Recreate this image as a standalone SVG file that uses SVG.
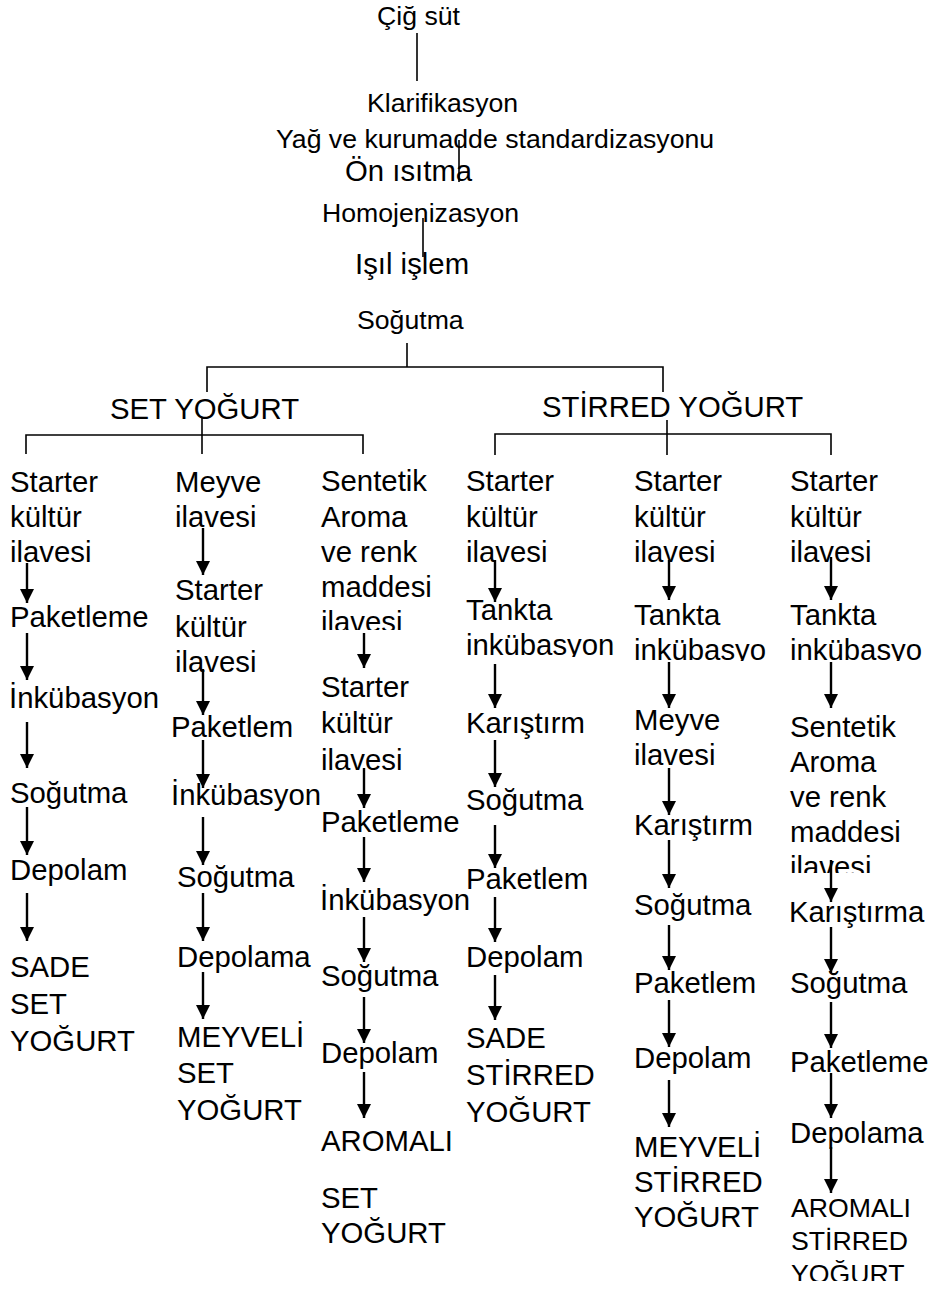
<svg xmlns="http://www.w3.org/2000/svg" width="930" height="1290" viewBox="0 0 930 1290">
<style>
text{font-family:"Liberation Sans",Arial,sans-serif;fill:#000}
.s{font-size:26.67px}
.l{font-size:29.33px}
.ln{stroke:#000;stroke-width:1.6;fill:none}
.ar{stroke:#000;stroke-width:2.4;fill:none;marker-end:url(#ah)}
</style>
<defs>
<marker id="ah" markerUnits="userSpaceOnUse" markerWidth="14" markerHeight="14" refX="14" refY="7" orient="auto">
<path d="M0,0 L14,7 L0,14 Z" fill="#000"/>
</marker>
<clipPath id="c3"><rect x="300" y="600" width="140" height="30"/></clipPath>
<clipPath id="c4"><rect x="450" y="630" width="180" height="27"/></clipPath>
<clipPath id="c5"><rect x="620" y="630" width="160" height="31"/></clipPath>
<clipPath id="c6a"><rect x="780" y="630" width="150" height="31"/></clipPath>
<clipPath id="c6b"><rect x="780" y="845" width="150" height="28"/></clipPath>
<clipPath id="c6c"><rect x="780" y="1190" width="150" height="91"/></clipPath>
</defs>
<rect width="930" height="1290" fill="#fff"/>
<g id="connectors">
<line class="ln" x1="417" y1="33" x2="417" y2="81"/>
<line class="ln" x1="459" y1="140" x2="459" y2="182"/>
<line class="ln" x1="423" y1="218" x2="423" y2="257"/>
<line class="ln" x1="407" y1="343" x2="407" y2="367"/>
<polyline class="ln" points="207,392 207,367 663,367 663,392"/>
<line class="ln" x1="202" y1="418" x2="202" y2="454"/>
<polyline class="ln" points="26,454 26,435 363,435 363,454"/>
<line class="ln" x1="667" y1="420" x2="667" y2="455"/>
<polyline class="ln" points="495,455 495,434 831,434 831,455"/>
<line class="ar" x1="27" y1="563" x2="27" y2="603"/>
<line class="ar" x1="27" y1="633" x2="27" y2="680"/>
<line class="ar" x1="27" y1="722" x2="27" y2="768"/>
<line class="ar" x1="27" y1="807" x2="27" y2="855"/>
<line class="ar" x1="27" y1="893" x2="27" y2="941"/>
<line class="ar" x1="203" y1="528" x2="203" y2="575"/>
<line class="ar" x1="203" y1="669" x2="203" y2="715"/>
<line class="ar" x1="203" y1="740" x2="203" y2="788"/>
<line class="ar" x1="203" y1="817" x2="203" y2="865"/>
<line class="ar" x1="203" y1="893" x2="203" y2="941"/>
<line class="ar" x1="203" y1="972" x2="203" y2="1019"/>
<line class="ar" x1="364" y1="633" x2="364" y2="668"/>
<line class="ar" x1="364" y1="768" x2="364" y2="808"/>
<line class="ar" x1="364" y1="837" x2="364" y2="882"/>
<line class="ar" x1="364" y1="917" x2="364" y2="962"/>
<line class="ar" x1="364" y1="997" x2="364" y2="1043"/>
<line class="ar" x1="364" y1="1072" x2="364" y2="1118"/>
<line class="ar" x1="495" y1="560" x2="495" y2="602"/>
<line class="ar" x1="495" y1="664" x2="495" y2="708"/>
<line class="ar" x1="495" y1="740" x2="495" y2="787"/>
<line class="ar" x1="495" y1="825" x2="495" y2="868"/>
<line class="ar" x1="495" y1="897" x2="495" y2="942"/>
<line class="ar" x1="495" y1="975" x2="495" y2="1020"/>
<line class="ar" x1="669" y1="560" x2="669" y2="600"/>
<line class="ar" x1="669" y1="662" x2="669" y2="708"/>
<line class="ar" x1="669" y1="768" x2="669" y2="815"/>
<line class="ar" x1="669" y1="840" x2="669" y2="888"/>
<line class="ar" x1="669" y1="925" x2="669" y2="970"/>
<line class="ar" x1="669" y1="1000" x2="669" y2="1047"/>
<line class="ar" x1="669" y1="1080" x2="669" y2="1127"/>
<line class="ar" x1="831" y1="557" x2="831" y2="600"/>
<line class="ar" x1="831" y1="662" x2="831" y2="708"/>
<line class="ar" x1="831" y1="860" x2="831" y2="902"/>
<line class="ar" x1="831" y1="927" x2="831" y2="973"/>
<line class="ar" x1="831" y1="1002" x2="831" y2="1048"/>
<line class="ar" x1="831" y1="1073" x2="831" y2="1118"/>
<line class="ar" x1="831" y1="1147" x2="831" y2="1193"/>
</g>
<g id="n-cig-sut"><text class="s" x="377" y="25">Çiğ süt</text></g>
<g id="n-klarifikasyon"><text class="s" x="367" y="112">Klarifikasyon</text></g>
<g id="n-standardizasyon"><text class="s" x="276" y="148">Yağ ve kurumadde standardizasyonu</text></g>
<g id="n-on-isitma"><text class="l" x="345" y="181">Ön ısıtma</text></g>
<g id="n-homojenizasyon"><text class="s" x="322" y="222">Homojenizasyon</text></g>
<g id="n-isil-islem"><text class="l" x="355" y="274">Işıl işlem</text></g>
<g id="n-sogutma"><text class="s" x="357" y="329">Soğutma</text></g>
<g id="n-set"><text class="l" x="110" y="419">SET YOĞURT</text></g>
<g id="n-stirred"><text class="l" x="542" y="417">STİRRED YOĞURT</text></g>

<g id="col1">
<g id="c1-starter"><text class="l"><tspan x="10" y="492">Starter</tspan><tspan x="10" y="527">kültür</tspan><tspan x="10" y="562">ilavesi</tspan></text></g>
<g id="c1-paketleme"><text class="l" x="10" y="627">Paketleme</text></g>
<g id="c1-inkubasyon"><text class="l" x="9" y="708">İnkübasyon</text></g>
<g id="c1-sogutma"><text class="l" x="10" y="803">Soğutma</text></g>
<g id="c1-depolam"><text class="l" x="10" y="880">Depolam</text></g>
<g id="c1-sade"><text class="l"><tspan x="10" y="977">SADE</tspan><tspan x="10" y="1014">SET</tspan><tspan x="10" y="1051">YOĞURT</tspan></text></g>
</g>

<g id="col2">
<g id="c2-meyve"><text class="l"><tspan x="175" y="492">Meyve</tspan><tspan x="175" y="527">ilavesi</tspan></text></g>
<g id="c2-starter"><text class="l"><tspan x="175" y="600">Starter</tspan><tspan x="175" y="637">kültür</tspan><tspan x="175" y="672">ilavesi</tspan></text></g>
<g id="c2-paketlem"><text class="l" x="171" y="737">Paketlem</text></g>
<g id="c2-inkubasyon"><text class="l" x="171" y="805">İnkübasyon</text></g>
<g id="c2-sogutma"><text class="l" x="177" y="887">Soğutma</text></g>
<g id="c2-depolama"><text class="l" x="177" y="967">Depolama</text></g>
<g id="c2-meyveli"><text class="l"><tspan x="177" y="1047">MEYVELİ</tspan><tspan x="177" y="1083">SET</tspan><tspan x="177" y="1120">YOĞURT</tspan></text></g>
</g>

<g id="col3">
<g id="c3-sentetik"><text class="l"><tspan x="321" y="491">Sentetik</tspan><tspan x="321" y="527">Aroma</tspan><tspan x="321" y="562">ve renk</tspan><tspan x="321" y="597">maddesi</tspan></text><text class="l" x="321" y="632" clip-path="url(#c3)">ilavesi</text></g>
<g id="c3-starter"><text class="l"><tspan x="321" y="697">Starter</tspan><tspan x="321" y="733">kültür</tspan><tspan x="321" y="770">ilavesi</tspan></text></g>
<g id="c3-paketleme"><text class="l" x="321" y="832">Paketleme</text></g>
<g id="c3-inkubasyon"><text class="l" x="320" y="910">İnkübasyon</text></g>
<g id="c3-sogutma"><text class="l" x="321" y="986">Soğutma</text></g>
<g id="c3-depolam"><text class="l" x="321" y="1063">Depolam</text></g>
<g id="c3-aromali"><text class="l"><tspan x="321" y="1151">AROMALI</tspan><tspan x="321" y="1208">SET</tspan><tspan x="321" y="1243">YOĞURT</tspan></text></g>
</g>

<g id="col4">
<g id="c4-starter"><text class="l"><tspan x="466" y="491">Starter</tspan><tspan x="466" y="527">kültür</tspan><tspan x="466" y="562">ilavesi</tspan></text></g>
<g id="c4-tankta"><text class="l" x="466" y="620">Tankta</text><text class="l" x="466" y="655" clip-path="url(#c4)">inkübasyon</text></g>
<g id="c4-karistirm"><text class="l" x="466" y="733">Karıştırm</text></g>
<g id="c4-sogutma"><text class="l" x="466" y="810">Soğutma</text></g>
<g id="c4-paketlem"><text class="l" x="466" y="889">Paketlem</text></g>
<g id="c4-depolam"><text class="l" x="466" y="967">Depolam</text></g>
<g id="c4-sade"><text class="l"><tspan x="466" y="1048">SADE</tspan><tspan x="466" y="1085">STİRRED</tspan><tspan x="466" y="1122">YOĞURT</tspan></text></g>
</g>

<g id="col5">
<g id="c5-starter"><text class="l"><tspan x="634" y="491">Starter</tspan><tspan x="634" y="527">kültür</tspan><tspan x="634" y="562">ilavesi</tspan></text></g>
<g id="c5-tankta"><text class="l" x="634" y="625">Tankta</text><text class="l" x="634" y="660" clip-path="url(#c5)">inkübasyo</text></g>
<g id="c5-meyve"><text class="l"><tspan x="634" y="730">Meyve</tspan><tspan x="634" y="765">ilavesi</tspan></text></g>
<g id="c5-karistirm"><text class="l" x="634" y="835">Karıştırm</text></g>
<g id="c5-sogutma"><text class="l" x="634" y="915">Soğutma</text></g>
<g id="c5-paketlem"><text class="l" x="634" y="993">Paketlem</text></g>
<g id="c5-depolam"><text class="l" x="634" y="1068">Depolam</text></g>
<g id="c5-meyveli"><text class="l"><tspan x="634" y="1157">MEYVELİ</tspan><tspan x="634" y="1192">STİRRED</tspan><tspan x="634" y="1227">YOĞURT</tspan></text></g>
</g>

<g id="col6">
<g id="c6-starter"><text class="l"><tspan x="790" y="491">Starter</tspan><tspan x="790" y="527">kültür</tspan><tspan x="790" y="562">ilavesi</tspan></text></g>
<g id="c6-tankta"><text class="l" x="790" y="625">Tankta</text><text class="l" x="790" y="660" clip-path="url(#c6a)">inkübasyo</text></g>
<g id="c6-sentetik"><text class="l"><tspan x="790" y="737">Sentetik</tspan><tspan x="790" y="772">Aroma</tspan><tspan x="790" y="807">ve renk</tspan><tspan x="790" y="842">maddesi</tspan></text><text class="l" x="790" y="877" clip-path="url(#c6b)">ilavesi</text></g>
<g id="c6-karistirma"><text class="l" x="789" y="922">Karıştırma</text></g>
<g id="c6-sogutma"><text class="l" x="790" y="993">Soğutma</text></g>
<g id="c6-paketleme"><text class="l" x="790" y="1072">Paketleme</text></g>
<g id="c6-depolama"><text class="l" x="790" y="1143">Depolama</text></g>
<g id="c6-aromali"><text class="s" clip-path="url(#c6c)"><tspan x="791" y="1217">AROMALI</tspan><tspan x="791" y="1250">STİRRED</tspan><tspan x="791" y="1283">YOĞURT</tspan></text></g>
</g>
</svg>
